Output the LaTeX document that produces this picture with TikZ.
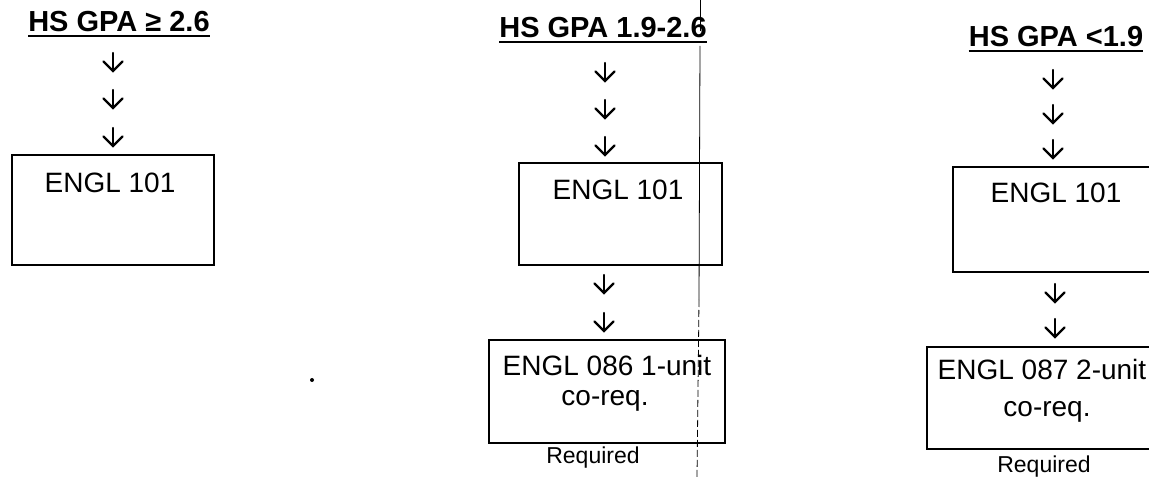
\documentclass[tikz,border=0pt]{standalone}
\usepackage{fontspec}
\setmainfont{Liberation Sans}
\begin{document}
\begin{tikzpicture}[x=1pt,y=-1pt,
  box/.style={draw, line width=1.7pt, inner sep=0pt},
  txt/.style={inner sep=0pt, anchor=base, font=\fontsize{28}{33}\selectfont},
  ttl/.style={inner sep=0pt, anchor=base, font=\bfseries\fontsize{29}{34}\selectfont},
  sm/.style={inner sep=0pt, anchor=base, font=\fontsize{23}{27}\selectfont},
  dn/.style={line width=2.2pt, line cap=round, line join=miter},
  ul/.style={line width=1.8pt},
  guide/.style={line width=0.8pt}]
\useasboundingbox (0,0) rectangle (1149,478);
% titles
\node[ttl] (t1) at (119,32) {HS GPA ≥ 2.6};
\node[ttl] (t2) at (603,38) {HS GPA 1.9-2.6};
\node[ttl] (t3) at (1056,47) {HS GPA <1.9};
\foreach \t in {t1,t2,t3}
  \draw[ul] ([yshift=-4pt]\t.base west) -- ([yshift=-4pt]\t.base east);
% boxes
\node[box, minimum width=202pt, minimum height=110pt] (b1) at (113,210) {};
\node[box, minimum width=203pt, minimum height=102pt] (b2) at (620.5,214) {};
\node[box, minimum width=236pt, minimum height=103pt] (b3) at (607,391.5) {};
\node[box, minimum width=220pt, minimum height=105pt] (b4) at (1063,219.5) {};
\node[box, minimum width=250pt, minimum height=102pt] (b5) at (1052,398) {};
% box texts
\node[txt] (e1) at (110,193) {ENGL 101};
\node[txt] (e2) at (618,200) {ENGL 101};
\node[txt] (e3) at (607,375) {ENGL 086 1-unit};
\node[txt] (e3b) at (605,406) {co-req.};
\node[sm] (r1) at (593,463) {Required};
\node[txt] (e4) at (1056,203) {ENGL 101};
\node[txt] (e5) at (1042,380) {ENGL 087 2-unit};
\node[txt] (e5b) at (1047,416) {co-req.};
\node[sm] (r2) at (1044,472) {Required};
% arrows (glyph-like down arrows)
\foreach \n/\x/\y in {a1/113/53, a2/113/90, a3/113/128,
                      a4/605/63, a5/605/100, a6/605/137,
                      a7/604/275, a8/604/313,
                      a9/1053/70, a10/1053/105, a11/1053/140,
                      a12/1055/284, a13/1055/319}{
  \coordinate (\n s) at (\x,\y);
  \coordinate (\n e) at (\x,\y+18);
  \draw[dn] (\n s) -- (\n e);
  \draw[dn] ([shift={(-9.5,-9.5)}]\n e) -- (\n e) -- ([shift={(9.5,-9.5)}]\n e);
}
% vertical scan line
\coordinate (v0) at (700,0);
\coordinate (v1) at (700,31);
\coordinate (v2) at (700,46);
\coordinate (v3) at (699,300);
\coordinate (v4) at (697,478);
\draw[guide] (v0) -- (v1);
\draw[guide] (v2) -- (v3);
\draw[guide, dash pattern=on 7pt off 3pt] (v3) -- (v4);
% stray dot
\fill (312,380) circle (2pt);
\end{tikzpicture}
\end{document}
